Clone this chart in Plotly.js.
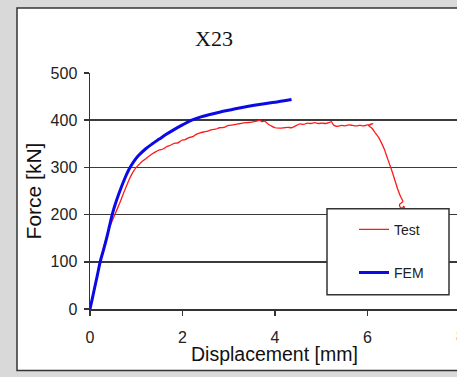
<!DOCTYPE html>
<html>
<head>
<meta charset="utf-8">
<script src="https://cdn.plot.ly/plotly-3.0.1.min.js"></script>
<style>
html,body{margin:0;padding:0;background:#d9d9d9;}
#chart{width:457px;height:377px;}
</style>
</head>
<body>
<div id="chart"></div>
<script>
// Test (experiment) curve
const testDisp = [0,0.05,0.1,0.16,0.22,0.3,0.38,0.45,0.52,0.58,0.65,0.72,0.8,0.86,0.93,1.0,1.06,1.12,1.2,1.28,1.35,1.42,1.5,1.58,1.66,1.74,1.82,1.9,1.98,2.06,2.14,2.22,2.3,2.38,2.46,2.55,2.64,2.72,2.8,2.9,3.0,3.1,3.2,3.3,3.4,3.5,3.6,3.67,3.72,3.78,3.85,3.92,4.0,4.1,4.2,4.28,4.36,4.45,4.54,4.62,4.7,4.78,4.86,4.94,5.02,5.1,5.17,5.22,5.26,5.3,5.36,5.44,5.52,5.6,5.68,5.76,5.84,5.92,6.0,6.06,6.12,6.06,6.02,6.1,6.18,6.24,6.3,6.37,6.44,6.52,6.59,6.66,6.72,6.77,6.74,6.7,6.71,6.76,6.79,6.81];
const testForce = [0,20,43,70,98,132,160,180,196,210,226,244,263,277,290,300,306,312,318,324,329,333,337,339,344,347,351,352,357,359,363,365,370,373,375,377,380,381,384,385,389,390,392,394,395,396,398,400,397,398,392,388,384,383,384,385,384,388,392,391,394,393,395,393,394,393,395,397,391,388,387,389,388,390,389,388,389,388,390,390,393,391,389,383,372,364,353,338,318,296,275,253,238,228,225,222,216,214,218,211];
// FEM curve
const femDisp = [0,0.05,0.1,0.16,0.22,0.3,0.36,0.42,0.48,0.56,0.65,0.75,0.85,0.95,1.05,1.2,1.35,1.5,1.65,1.8,2.0,2.2,2.4,2.55,2.8,3.1,3.4,3.7,4.0,4.2,4.36];
const femForce = [0,22,45,72,100,128,150,175,200,226,251,276,297,313,325,339,350,360,370,379,390,400,407,411,417,423,429,434,438,441,444];

const xTicks = [0,2,4,6];
const yTicks = [0,100,200,300,400,500];

const traces = [
  {x: testDisp, y: testForce, name: 'Test', type: 'scatter', mode: 'lines',
   line: {color: '#ff1a1a', width: 1.3, shape: 'spline', smoothing: 0.6}, legendgroup: 'a'},
  {x: femDisp, y: femForce, name: 'FEM', type: 'scatter', mode: 'lines',
   line: {color: '#0a0ae6', width: 3, shape: 'spline', smoothing: 1}, legendgroup: 'b'}
];

const L = 90, T = 73, W = 367, H = 236.3;
function px(xp){ return (xp - L)/W; }
function py(yp){ return (T + H - yp)/H; }

const layout = {
  width: 457, height: 377,
  margin: {l: L, r: 0, t: T, b: 377 - T - H},
  paper_bgcolor: '#d9d9d9',
  plot_bgcolor: 'rgba(0,0,0,0)',
  font: {family: 'Liberation Sans, Arial, sans-serif', color: '#222'},
  title: {text: 'X23', font: {family: 'Liberation Serif, Times New Roman, serif', size: 22, color: '#111'},
          xref: 'container', yref: 'container', x: 214/457, y: 1 - 38/377, xanchor: 'center', yanchor: 'middle'},
  xaxis: {
    range: [0, 7.94], tickvals: xTicks, ticktext: xTicks.map(String),
    showgrid: false, zeroline: false, showline: true, linecolor: '#333', linewidth: 1.5,
    ticks: 'outside', ticklen: 5, tickcolor: '#333', tickwidth: 1.5,
    tickfont: {size: 16, color: '#222'}, ticklabelstandoff: 8
  },
  yaxis: {
    range: [0, 500], tickvals: yTicks, ticktext: yTicks.map(String),
    showgrid: true, gridcolor: '#3a3a3a', gridwidth: 1.5,
    zeroline: false, showline: true, linecolor: '#333', linewidth: 1.5,
    ticks: 'outside', ticklen: 5, tickcolor: '#333', tickwidth: 1.5,
    tickfont: {size: 16, color: '#222'}, ticklabelstandoff: 3,
    title: {text: 'Force [kN]', font: {size: 21, color: '#111'}, standoff: 3}
  },
  showlegend: true,
  legend: {x: px(354), y: py(214), xanchor: 'left', yanchor: 'top', bgcolor: 'rgba(0,0,0,0)',
           borderwidth: 0, font: {size: 14, color: '#222'}, tracegroupgap: 22, traceorder: 'grouped'},
  shapes: [
    {type: 'rect', xref: 'paper', yref: 'paper', x0: px(17), x1: px(470), y0: py(371), y1: py(8),
     fillcolor: '#ffffff', line: {color: '#333', width: 1.5}, layer: 'below'},
    {type: 'rect', xref: 'paper', yref: 'paper', x0: px(327), x1: px(449), y0: py(295), y1: py(209),
     fillcolor: '#ffffff', line: {color: '#333', width: 1.5}, layer: 'above'}
  ],
  annotations: [
    {text: 'Displacement [mm]', xref: 'paper', yref: 'paper', x: px(274), y: py(354), showarrow: false,
     xanchor: 'center', yanchor: 'middle', font: {size: 19.5, color: '#111'}},
    {text: '8', xref: 'paper', yref: 'paper', x: px(460), y: py(337), showarrow: false,
     xanchor: 'center', yanchor: 'middle', font: {size: 16, color: '#555'}}
  ]
};

Plotly.newPlot('chart', traces, layout, {displayModeBar: false, staticPlot: true});
</script>
</body>
</html>
